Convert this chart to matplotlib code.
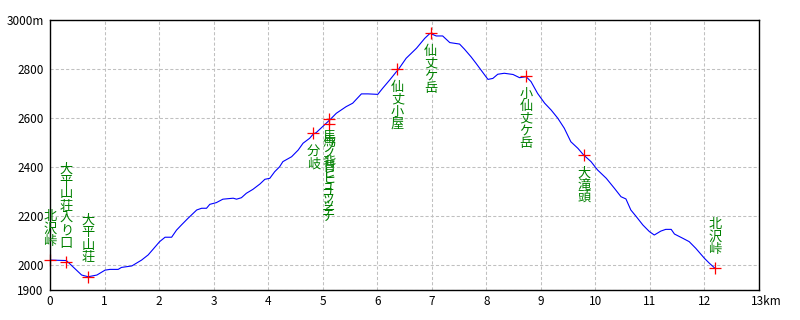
import matplotlib
matplotlib.use("Agg")
import matplotlib.pyplot as plt
import matplotlib.transforms as mtransforms

# ---- data ----
dist_km = [0.00, 0.30, 0.58, 0.70, 0.86, 1.01, 1.10, 1.25, 1.31, 1.50, 1.56, 1.68, 1.80, 1.89,
           2.01, 2.11, 2.23, 2.32, 2.41, 2.53, 2.69, 2.78, 2.87, 2.93, 3.05, 3.17, 3.36, 3.42,
           3.51, 3.60, 3.72, 3.85, 3.94, 4.03, 4.12, 4.21, 4.27, 4.43, 4.55, 4.64, 4.76, 4.83,
           4.88, 5.01, 5.13, 5.25, 5.43, 5.55, 5.71, 5.83, 6.01, 6.10, 6.23, 6.35, 6.38, 6.53,
           6.72, 6.87, 6.97, 7.08, 7.20, 7.33, 7.51, 7.60, 7.72, 7.81, 7.94, 8.03, 8.12, 8.21,
           8.33, 8.49, 8.61, 8.73, 8.82, 8.94, 9.07, 9.19, 9.31, 9.43, 9.55, 9.68, 9.78, 9.92,
           10.04, 10.20, 10.35, 10.47, 10.56, 10.65, 10.75, 10.87, 10.99, 11.08, 11.20, 11.29,
           11.39, 11.45, 11.60, 11.72, 11.84, 12.00, 12.09, 12.19]
elev_m = [2022, 2020, 1961, 1954, 1961, 1981, 1984, 1984, 1992, 1998, 2006, 2022, 2043, 2066,
          2097, 2115, 2115, 2144, 2165, 2192, 2226, 2233, 2233, 2249, 2256, 2270, 2274, 2270,
          2276, 2294, 2310, 2332, 2351, 2355, 2382, 2402, 2423, 2443, 2470, 2498, 2518, 2536,
          2541, 2568, 2593, 2620, 2647, 2661, 2699, 2699, 2697, 2722, 2756, 2789, 2796, 2844,
          2885, 2925, 2946, 2935, 2935, 2908, 2902, 2881, 2850, 2824, 2785, 2758, 2762, 2779,
          2783, 2778, 2765, 2769, 2749, 2701, 2661, 2633, 2600, 2559, 2504, 2477, 2451, 2423,
          2389, 2355, 2314, 2280, 2271, 2226, 2199, 2165, 2138, 2124, 2140, 2147,
          2147, 2128, 2111, 2097, 2070, 2029, 2009, 1989]

wp_names = ["北沢峠", "大平山荘入り口", "大平山荘", "分岐", "馬ノ背ヒュッテ", "馬ノ背ヒュッテ",
            "仙丈小屋", "仙丈ケ岳", "小仙丈ケ岳", "大滝頭", "北沢峠"]
wp_km = [0.00, 0.30, 0.70, 4.83, 5.11, 5.11, 6.37, 6.98, 8.73, 9.79, 12.19]
wp_elev = [2022, 2014, 1955, 2538, 2596, 2575, 2799, 2946, 2772, 2451, 1989]

x_ticks = [0, 1, 2, 3, 4, 5, 6, 7, 8, 9, 10, 11, 12, 13]
x_tick_labels = ["0", "1", "2", "3", "4", "5", "6", "7", "8", "9", "10", "11", "12", "13km"]
y_ticks = [1900, 2000, 2200, 2400, 2600, 2800, 3000]
y_tick_labels = ["1900", "2000", "2200", "2400", "2600", "2800", "3000m"]

# ---- figure ----
plt.rcParams['font.family'] = ['Noto Sans CJK JP', 'DejaVu Sans']
fig = plt.figure(figsize=(8, 3.2), dpi=100)
ax = fig.add_axes([50/800, 1-290/320, 709/800, 270/320])

ax.set_xlim(0, 13)
ax.set_ylim(1900, 3000)

ax.set_xticks(x_ticks)
ax.set_xticklabels(x_tick_labels, fontsize=8.5)
ax.set_yticks(y_ticks)
ax.set_yticklabels(y_tick_labels, fontsize=8.5)
ax.tick_params(axis='both', length=0, colors='black')
ax.tick_params(axis='y', pad=4.5)
ax.tick_params(axis='x', pad=3.5)

# shift "13km" so that "13" sits on the tick
last = ax.get_xticklabels()[-1]
last.set_transform(last.get_transform() + mtransforms.ScaledTranslation(7/100, 0, fig.dpi_scale_trans))

ax.grid(True, color='#c0c0c0', linestyle=(0, (3, 2)), linewidth=0.75)
for s in ax.spines.values():
    s.set_linewidth(1.0)
    s.set_color('black')
    s.set_zorder(5)

ax.plot(dist_km, elev_m, color='#0000ff', linewidth=0.8, zorder=3)
ax.plot(wp_km, wp_elev, linestyle='none', marker='+', markersize=8.5,
        markeredgewidth=0.9, color='#ff0000', zorder=4, clip_on=False)

for name, xk, ye in zip(wp_names, wp_km, wp_elev):
    vert = "\n".join(name)
    if ye < 2100:
        ax.annotate(vert, (xk, ye), xytext=(0, 9), textcoords='offset points',
                    ha='center', va='bottom', fontsize=9.5, color='#008000',
                    linespacing=0.93, zorder=6)
    else:
        ax.annotate(vert, (xk, ye), xytext=(0, -8.5), textcoords='offset points',
                    ha='center', va='top', fontsize=9.5, color='#008000',
                    linespacing=0.93, zorder=6)

fig.savefig("out.png", dpi=100, facecolor='white')
